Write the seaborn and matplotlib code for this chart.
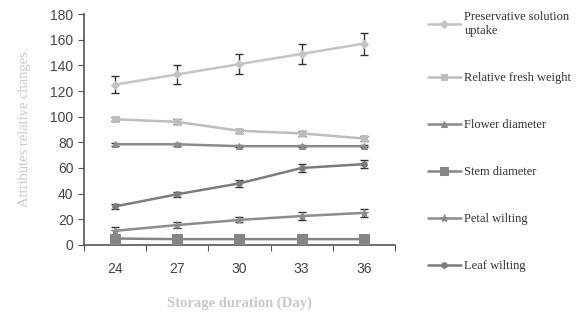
import numpy as np
import pandas as pd
import matplotlib
matplotlib.use('Agg')
import matplotlib.pyplot as plt
import seaborn as sns

# Storage duration categories
days = ['24', '27', '30', '33', '36']

# Series values
uptake = [125, 133, 141, 149, 157]
uptake_err = [6.5, 7.5, 8, 8, 8.5]
fresh_weight = [98, 96, 89, 87, 83]
fresh_weight_err = [1.5, 2, 1.5, 2, 2]
flower_diam = [78.5, 78.5, 77, 77, 77]
flower_diam_err = [1, 1, 1, 1, 1]
stem_diam = [5, 4.5, 4.5, 4.5, 4.5]
stem_diam_err = [0.5, 0.5, 0.5, 0.5, 0.5]
petal_wilt = [11, 15.5, 19.5, 22.5, 25]
petal_wilt_err = [3, 2.5, 2, 3, 3]
leaf_wilt = [30, 39.5, 48, 60, 63]
leaf_wilt_err = [2, 2, 3, 3, 3]

labels = ['Preservative solution\nuptake', 'Relative fresh weight', 'Flower diameter',
          'Stem diameter', 'Petal wilting', 'Leaf wilting']
values = [uptake, fresh_weight, flower_diam, stem_diam, petal_wilt, leaf_wilt]
errors = [uptake_err, fresh_weight_err, flower_diam_err, stem_diam_err, petal_wilt_err, leaf_wilt_err]
colors = ['#c4c4c4', '#bdbdbd', '#8a8a8a', '#858585', '#8c8c8c', '#7c7c7c']
markers = ['D', 's', '^', 's', '*', 'o']
msizes = [4, 5, 5, 7.5, 6, 4]

rows = []
for lab, vals in zip(labels, values):
    for i, v in enumerate(vals):
        rows.append({'pos': i, 'day': days[i], 'value': v, 'series': lab})
df = pd.DataFrame(rows)

sns.set_style('white')
plt.rcParams['font.family'] = ['Liberation Sans', 'DejaVu Sans']

fig = plt.figure(figsize=(5.79, 3.21), dpi=100)
ax = fig.add_axes([0.145, 0.237, 0.537, 0.719])

for lab, col, mk, ms, err in zip(labels, colors, markers, msizes, errors):
    sub = df[df['series'] == lab]
    ax.errorbar(sub['pos'], sub['value'], yerr=err, fmt='none', ecolor='#333333',
                elinewidth=1, capsize=3, capthick=1, zorder=2)
    sns.lineplot(data=sub, x='pos', y='value', ax=ax, color=col, marker=mk,
                 markersize=ms, markeredgecolor=col, linewidth=1.8, label=lab,
                 legend=False, zorder=3)

ax.set_xlim(-0.5, 4.5)
ax.set_ylim(0, 180)
ax.set_yticks(np.arange(0, 181, 20))
ax.set_xticks(np.arange(-0.5, 4.6, 1))
ax.set_xticklabels([])
ax.set_xticks(range(5), minor=True)
ax.set_xticklabels(days, minor=True)
ax.tick_params(axis='x', which='major', direction='out', length=4, color='#555555', bottom=True)
ax.tick_params(axis='x', which='minor', length=0, pad=12, labelsize=10, labelcolor='#444444')
ax.tick_params(axis='y', direction='out', length=4, color='#555555', left=True,
               labelsize=10, labelcolor='#444444')

for side in ['top', 'right']:
    ax.spines[side].set_visible(False)
for side in ['left', 'bottom']:
    ax.spines[side].set_color('#555555')
    ax.spines[side].set_linewidth(1.2)

ax.set_xlabel('Storage duration (Day)', fontsize=10.5, color='#c8c8c8',
              family='Liberation Serif', fontweight='bold', labelpad=15)
ax.set_ylabel('Attributes relative changes', fontsize=10.5, color='#c8c8c8',
              family='Liberation Serif', labelpad=14)

handles, labs = ax.get_legend_handles_labels()
leg = fig.legend(handles, labs, loc='upper left', bbox_to_anchor=(0.72, 1.0),
                 frameon=False, prop={'family': 'Liberation Serif', 'size': 9},
                 handlelength=2.6, handletextpad=0.3, labelspacing=2.8)
for t in leg.get_texts():
    t.set_color('#333333')
leg.legend_handles[3].set_markersize(6)

fig.savefig('out.png', dpi=100, facecolor='white')
